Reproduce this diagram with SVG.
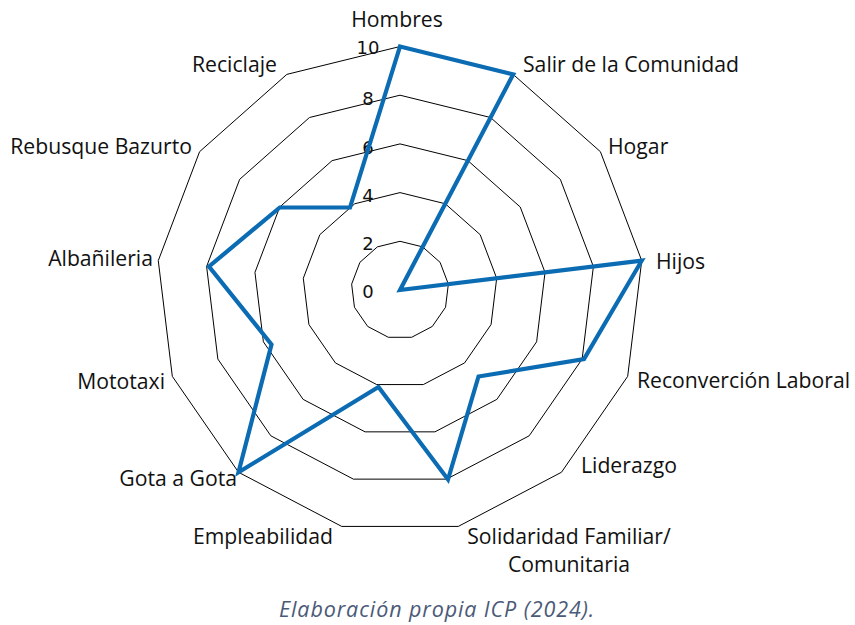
<svg xmlns="http://www.w3.org/2000/svg" width="855" height="625" viewBox="0 0 855 625">
<style>
.ring{fill:none;stroke:#000;stroke-width:1}
.tick{font-family:"DejaVu Sans",sans-serif;font-size:18px;fill:#111;text-anchor:middle}
.lbl{font-family:"Open Sans","Liberation Sans",sans-serif;font-size:21.2px;fill:#111}
.data{fill:none;stroke:#0b6cb3;stroke-width:4.2;stroke-linejoin:miter}
.cap{font-family:"Open Sans","Liberation Sans",sans-serif;font-size:21.5px;letter-spacing:0.9px;font-style:italic;fill:#4b5a78;text-anchor:middle}
</style>
<rect width="855" height="625" fill="#fff"/>
<g id="grid">
<polygon class="ring" points="400,46.5 513.16,74.39 600.4,151.68 641.72,260.65 627.68,376.34 561.47,472.26 458.27,526.42 341.73,526.42 238.53,472.26 172.32,376.34 158.28,260.65 199.6,151.68 286.84,74.39"/>
<polygon class="ring" points="400,95.2 490.53,117.51 560.32,179.34 593.38,266.52 582.14,359.08 529.18,435.81 446.62,479.14 353.38,479.14 270.82,435.81 217.86,359.08 206.62,266.52 239.68,179.34 309.47,117.51"/>
<polygon class="ring" points="400,143.9 467.9,160.63 520.24,207.01 545.04,272.39 536.61,341.81 496.88,399.36 434.96,431.85 365.04,431.85 303.12,399.36 263.39,341.81 254.96,272.39 279.76,207.01 332.1,160.63"/>
<polygon class="ring" points="400,192.6 445.26,203.76 480.16,234.67 496.69,278.26 491.07,324.54 464.59,362.91 423.31,384.57 376.69,384.57 335.41,362.91 308.93,324.54 303.31,278.26 319.84,234.67 354.74,203.76"/>
<polygon class="ring" points="400,241.3 422.63,246.88 440.08,262.34 448.35,284.13 445.54,307.27 432.29,326.45 411.65,337.29 388.35,337.29 367.71,326.45 354.46,307.27 351.65,284.13 359.92,262.34 377.37,246.88"/>
</g>
<g id="ticks">
<text class="tick" x="368" y="53.5">10</text>
<text class="tick" x="368" y="104.5">8</text>
<text class="tick" x="368" y="153.5">6</text>
<text class="tick" x="368" y="201.5">4</text>
<text class="tick" x="368" y="250">2</text>
<text class="tick" x="368" y="298">0</text>
</g>
<g id="labels">
<text id="n-hombres" class="lbl" x="397" y="27" text-anchor="middle">Hombres</text>
<text id="n-salir" class="lbl" x="523" y="72">Salir de la Comunidad</text>
<text id="n-hogar" class="lbl" x="608" y="154">Hogar</text>
<text id="n-hijos" class="lbl" x="656" y="269">Hijos</text>
<text id="n-reconv" class="lbl" x="637" y="388">Reconverción Laboral</text>
<text id="n-lider" class="lbl" x="581" y="473">Liderazgo</text>
<text id="n-solid" class="lbl" x="569" y="544" text-anchor="middle"><tspan x="569">Solidaridad Familiar/</tspan><tspan x="569" y="572">Comunitaria</tspan></text>
<text id="n-emple" class="lbl" x="333" y="544" text-anchor="end">Empleabilidad</text>
<text id="n-gota" class="lbl" x="237" y="486" text-anchor="end">Gota a Gota</text>
<text id="n-moto" class="lbl" x="165" y="389" text-anchor="end">Mototaxi</text>
<text id="n-alba" class="lbl" x="153" y="266" text-anchor="end">Albañileria</text>
<text id="n-rebus" class="lbl" x="192" y="154" text-anchor="end">Rebusque Bazurto</text>
<text id="n-recic" class="lbl" x="277" y="72" text-anchor="end">Reciclaje</text>
</g>
<g id="series">
<polygon class="data" points="400,46.5 513.2,74.4 400,290 641.7,260.7 584,359 478.5,376.5 448,479.5 378.5,387 238.5,472.3 271.5,344.5 209,266.5 279.8,207.5 350,207.5"/>
</g>
<text class="cap" x="437" y="617">Elaboración propia ICP (2024).</text>
</svg>
